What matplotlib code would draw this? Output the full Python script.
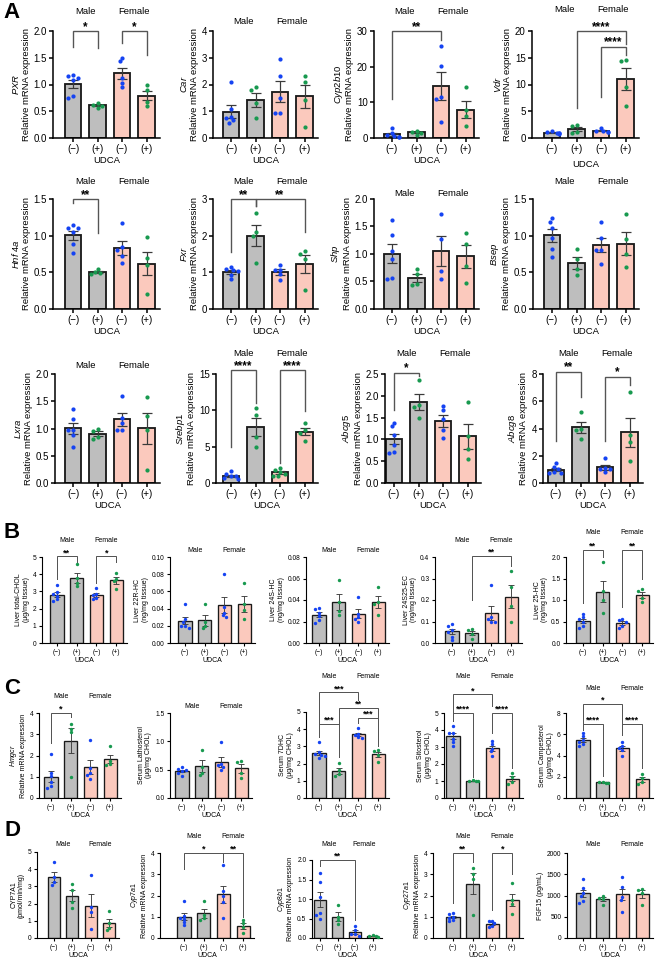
import numpy as np
import matplotlib
matplotlib.use('Agg')
import matplotlib.pyplot as plt
from matplotlib.transforms import blended_transform_factory

plt.rcParams['font.family'] = ['Liberation Sans', 'DejaVu Sans']
plt.rcParams['mathtext.fontset'] = 'custom'
plt.rcParams['mathtext.it'] = 'Liberation Sans:italic'
plt.rcParams['mathtext.rm'] = 'Liberation Sans'

W, H = 657, 959
GREY = '#bebebe'
PINK = '#fbc9bd'
BLUE = '#1543f2'
GREEN = '#18994f'

groups = ['(\u2212)', '(+)', '(\u2212)', '(+)']
sexes = ['Male', 'Female']

# ---- panel A: liver mRNA ----
pxr = [[1.15, 1.17, 1.08, 1.12, 0.75, 0.78], [0.57, 0.60, 0.61, 0.65],
       [1.50, 1.43, 1.12, 1.03, 0.95], [0.99, 0.90, 0.68, 0.60]]
car = [[2.10, 1.07, 0.78, 0.75, 0.66, 0.55], [1.89, 1.81, 1.29, 0.76],
       [2.95, 2.33, 1.48, 0.94, 0.94], [2.31, 2.08, 1.41, 0.42]]
cyp2b10 = [[2.9, 1.4, 0.8, 0.5, 0.3, 0.2], [2.0, 1.8, 1.5, 0.9],
           [25.9, 20.3, 11.4, 10.9, 4.4], [14.3, 7.9, 6.1, 3.4]]
vdr = [[1.3, 1.2, 1.0, 0.9, 0.8, 0.9], [2.4, 2.2, 1.1, 0.9],
       [1.9, 1.4, 1.3, 1.2, 1.1], [14.5, 14.4, 9.5, 5.9]]
hnf4a = [[1.14, 1.10, 1.11, 1.05, 0.88, 0.77], [0.55, 0.50, 0.49, 0.48],
         [1.17, 0.84, 0.80, 0.72, 0.63], [0.98, 0.70, 0.60, 0.20]]
fxr = [[1.15, 1.10, 1.06, 1.03, 0.94, 0.82], [2.63, 2.10, 2.00, 1.25],
       [1.20, 1.06, 1.05, 0.95, 0.78], [1.57, 1.50, 1.36, 0.52]]
shp = [[1.61, 1.35, 1.05, 0.91, 0.55, 0.57], [0.73, 0.64, 0.46, 0.44],
       [1.73, 1.28, 0.69, 0.55], [1.38, 1.19, 0.78, 0.47]]
bsep = [[1.24, 1.19, 1.10, 0.97, 0.82, 0.71], [0.82, 0.68, 0.54, 0.47],
        [1.19, 0.97, 0.80, 0.80, 0.61], [1.29, 0.96, 0.75, 0.57]]
lxra = [[1.35, 1.18, 0.98, 0.97, 0.88, 0.66], [1.00, 0.95, 0.85, 0.80],
        [1.60, 1.20, 1.10, 0.97, 0.97], [1.58, 1.23, 0.98, 0.24]]
srebp1 = [[1.6, 1.2, 1.0, 0.9, 0.7, 0.6], [10.3, 9.3, 6.3, 5.0],
          [2.1, 1.8, 1.5, 1.3, 1.0, 1.0], [8.3, 7.3, 6.9, 5.8]]
abcg5 = [[1.37, 1.30, 1.10, 0.88, 0.70, 0.69], [2.37, 1.80, 1.75, 1.50],
         [1.77, 1.67, 1.46, 1.22, 1.03], [1.86, 1.07, 0.78, 0.56]]
abcg8 = [[1.45, 1.20, 1.00, 0.80, 0.75, 0.70], [5.2, 4.0, 3.9, 3.2],
         [1.8, 1.1, 1.05, 1.0, 0.8], [6.7, 3.5, 3.0, 1.65]]

# ---- panel B: liver sterols ----
total_chol = [[3.35, 2.95, 2.85, 2.75, 2.55, 2.45], [4.6, 3.8, 3.5, 3.3],
              [3.2, 2.85, 2.8, 2.6, 2.55], [4.05, 3.75, 3.6, 3.15]]
hc22r = [[0.045, 0.028, 0.025, 0.020, 0.020, 0.018], [0.045, 0.024, 0.020, 0.017],
         [0.080, 0.042, 0.035, 0.032, 0.030], [0.070, 0.045, 0.038, 0.028]]
hc24s = [[0.033, 0.032, 0.028, 0.025, 0.021, 0.019], [0.059, 0.038, 0.030, 0.026],
         [0.043, 0.027, 0.024, 0.022, 0.020], [0.052, 0.038, 0.036, 0.026]]
ec24s25 = [[0.09, 0.08, 0.06, 0.05, 0.03, 0.015], [0.065, 0.06, 0.04, 0.02],
           [0.27, 0.12, 0.11, 0.10, 0.10], [0.335, 0.26, 0.17, 0.10]]
hc25 = [[0.68, 0.60, 0.55, 0.50, 0.40, 0.35], [1.88, 1.20, 1.00, 0.70],
        [0.55, 0.53, 0.50, 0.40, 0.35], [1.25, 1.22, 1.05, 0.95]]

# ---- panel C: serum sterols ----
hmgcr = [[2.05, 1.20, 1.05, 0.75, 0.55, 0.45], [3.47, 3.27, 3.10, 0.98],
         [2.72, 1.40, 1.20, 1.10, 0.90], [2.45, 1.75, 1.60, 1.55]]
lathosterol = [[0.54, 0.52, 0.50, 0.47, 0.44, 0.38], [0.85, 0.55, 0.45, 0.40],
               [0.98, 0.60, 0.58, 0.55, 0.50], [0.65, 0.64, 0.45, 0.35]]
dhc7 = [[3.25, 2.65, 2.55, 2.50, 2.45, 2.35], [2.05, 1.60, 1.40, 1.30],
        [4.05, 3.75, 3.65, 3.55, 3.50], [2.78, 2.75, 2.50, 2.10]]
sitosterol = [[4.25, 3.85, 3.80, 3.50, 3.30, 3.05], [1.05, 1.02, 1.00, 0.98],
              [3.35, 3.15, 2.90, 2.75, 2.50], [1.48, 1.25, 0.95, 0.85]]
campesterol = [[6.1, 5.8, 5.5, 5.3, 5.1, 4.9], [1.55, 1.50, 1.42, 1.40],
               [5.3, 4.9, 4.7, 4.5, 4.0], [2.3, 1.85, 1.5, 1.35]]

# ---- panel D: bile acid synthesis ----
cyp7a1_act = [[4.40, 3.55, 3.25, 3.10], [3.15, 2.80, 2.10, 1.75],
              [3.68, 1.80, 1.50, 0.55], [1.57, 0.85, 0.60, 0.45]]
cyp7a1 = [[1.75, 1.05, 0.95, 0.90, 0.75, 0.60], [1.75, 1.10, 0.95, 0.85],
          [3.45, 2.20, 2.00, 1.70, 0.92], [0.85, 0.70, 0.50, 0.25]]
cyp8b1 = [[1.67, 1.43, 1.05, 0.65, 0.60, 0.50], [0.85, 0.55, 0.45, 0.35],
          [0.30, 0.20, 0.10, 0.10, 0.05], [0.08, 0.06, 0.04, 0.03]]
cyp27a1 = [[1.20, 1.15, 1.00, 0.95, 0.85, 0.80], [3.30, 3.00, 2.80, 1.10],
           [0.82, 0.78, 0.70, 0.55, 0.50], [2.60, 1.80, 1.60, 1.15]]
fgf15 = [[1390, 1180, 1060, 1000, 860, 820], [1000, 950, 920, 770],
         [1440, 1200, 960, 900, 620], [1150, 1140, 1060, 770]]

REL = '\nRelative mRNA expression'


def gene(name):
    return '$\\mathit{' + name.replace(' ', '\\ ') + '}$' + REL


# brackets: (bar i, bar j, height, left leg end, right leg end, label)
panels = [
    # row A1
    dict(v=pxr, yt=['0.0', '0.5', '1.0', '1.5', '2.0'], yl=gene('PXR'), r=(53, 73, 31, 138), sy=12,
         br=[(0, 1, 2.0, 1.7, 1.69, '*'), (2, 3, 2.0, 1.77, 1.55, '*')]),
    dict(v=car, yt=['0', '1', '2', '3', '4'], yl=gene('Car'), r=(213, 231, 31, 138), sy=22, br=[]),
    dict(v=cyp2b10, yt=['0', '10', '20', '30'], yl=gene('Cyp2b10'), r=(374, 392, 31, 138), sy=11,
         br=[(0, 2, 30, 11, 27.5, '**')]),
    dict(v=vdr, yt=['0', '5', '10', '15', '20'], yl=gene('Vdr'), r=(532, 552, 31, 138), sy=10, pad=4,
         br=[(1, 3, 20, 5.6, 17.5, '****'), (2, 3, 17.1, 7.6, 15.5, '****')]),
    # row A2
    dict(v=hnf4a, yt=['0.0', '0.5', '1.0', '1.5'], yl=gene('Hnf 4a'), r=(53, 73, 199, 309), sy=181,
         br=[(0, 1, 1.5, 1.45, 1.04, '**')]),
    dict(v=fxr, yt=['0', '1', '2', '3'], yl=gene('Fxr'), r=(213, 231, 199, 309), sy=181,
         br=[(0, 1, 3, 1.55, 2.8, '**'), (1, 3, 3, 2.8, 2.1, '**')]),
    dict(v=shp, yt=['0.0', '0.5', '1.0', '1.5', '2.0'], yl=gene('Shp'), r=(374, 392, 199, 309), sy=193, br=[]),
    dict(v=bsep, yt=['0.0', '0.5', '1.0', '1.5'], yl=gene('Bsep'), r=(533, 552, 199, 309), sy=181, br=[]),
    # row A3
    dict(v=lxra, yt=['0.0', '0.5', '1.0', '1.5', '2.0'], yl=gene('Lxra'), r=(55, 73, 374, 483), sy=366, br=[]),
    dict(v=srebp1, yt=['0', '5', '10', '15'], yl=gene('Srebp1'), r=(216, 231, 374, 483), sy=353,
         dc=[BLUE, GREEN, GREEN, GREEN],
         br=[(0, 1, 15.5, 5.0, 11.0, '****'), (2, 3, 15.5, 2.7, 9.9, '****')]),
    dict(v=abcg5, yt=['0.0', '0.5', '1.0', '1.5', '2.0', '2.5'], yl=gene('Abcg5'), r=(385, 394, 374, 483), sy=353,
         br=[(0, 1, 2.53, 1.67, 2.45, '*')]),
    dict(v=abcg8, yt=['0', '2', '4', '6', '8'], yl=gene('Abcg8'), r=(543, 556, 374, 483), sy=353,
         br=[(0, 1, 8.17, 3.1, 6.3, '**'), (2, 3, 7.8, 3.1, 7.2, '*')]),
    # row B
    dict(v=total_chol, yt=['0', '1', '2', '3', '4', '5'], yl='Liver total-CHOL\n(\u03bcg/mg tissue)',
         r=(42, 57, 557, 643), sy=541, small=True,
         br=[(0, 1, 5.04, 3.75, 4.58, '**'), (2, 3, 5.04, 3.46, 4.7, '*')]),
    dict(v=hc22r, yt=['0.00', '0.02', '0.04', '0.06', '0.08', '0.10'], yl='Liver 22R-HC\n(ng/mg tissue)',
         r=(170, 185, 557, 643), sy=550, small=True, br=[]),
    dict(v=hc24s, yt=['0.00', '0.02', '0.04', '0.06', '0.08'], yl='Liver 24S-HC\n(ng/mg tissue)',
         r=(306, 319, 557, 643), sy=550, small=True, br=[]),
    dict(v=ec24s25, yt=['0.0', '0.1', '0.2', '0.3', '0.4'], yl='Liver 24S25-EC\n(ng/mg tissue)',
         r=(435, 452, 557, 643), sy=541, small=True, br=[(1, 3, 0.405, 0.2, 0.36, '**')]),
    dict(v=hc25, yt=['0.0', '0.5', '1.0', '1.5', '2.0'], yl='Liver 25-HC\n(ng/mg tissue)',
         r=(566, 583, 557, 643), sy=533, small=True,
         br=[(0, 1, 2.17, 0.92, 2.0, '**'), (2, 3, 2.17, 0.84, 1.5, '**')]),
    # row C
    dict(v=hmgcr, yt=['0', '1', '2', '3', '4'], yl=gene('Hmgcr'), r=(39, 51, 713, 798), sy=696, small=True,
         br=[(0, 1, 4.0, 2.57, 3.8, '*')]),
    dict(v=lathosterol, yt=['0.0', '0.5', '1.0', '1.5'], yl='Serum Lathosterol\n(\u03bcg/mg CHOL)',
         r=(170, 182, 713, 798), sy=707, small=True, br=[]),
    dict(v=dhc7, yt=['0', '1', '2', '3', '4', '5'], yl='Serum 7DHC\n(\u03bcg/mg CHOL)',
         r=(306, 319, 712, 798), sy=677, small=True,
         br=[(0, 2, 6.15, 4.3, 5.68, '***'), (1, 3, 5.23, 4.3, 4.65, '**'),
             (0, 1, 4.3, 3.57, 2.4, '***'), (2, 3, 4.65, 4.36, 3.0, '***')]),
    dict(v=sitosterol, yt=['0', '1', '2', '3', '4', '5'], yl='Serum Sitosterol\n(\u03bcg/mg CHOL)',
         r=(444, 453, 713, 798), sy=677, small=True,
         br=[(0, 2, 6.1, 5.0, 5.4, '*'), (0, 1, 5.0, 4.53, 1.26, '****'), (2, 3, 5.0, 3.8, 1.75, '****')]),
    dict(v=campesterol, yt=['0', '2', '4', '6', '8'], yl='Serum Campesterol\n(\u03bcg/mg CHOL)',
         r=(566, 583, 713, 798), sy=688, small=True,
         br=[(0, 2, 8.85, 6.95, 6.95, '*'), (0, 1, 6.95, 6.4, 2.1, '****'), (2, 3, 6.95, 5.9, 2.8, '****')]),
    # row D
    dict(v=cyp7a1_act, yt=['0', '1', '2', '3', '4', '5'], yl='CYP7A1\n(pmol/min/mg)',
         r=(37, 54, 852, 938), sy=845, small=True, sp=18.3, br=[]),
    dict(v=cyp7a1, yt=['0', '1', '2', '3', '4'], yl=gene('Cyp7a1'), r=(160, 184, 853, 938), sy=836, small=True,
         br=[(0, 2, 4.0, 3.24, 3.6, '*'), (2, 3, 4.0, 3.6, 1.0, '**')]),
    dict(v=cyp8b1, yt=['0.0', '0.5', '1.0', '1.5', '2.0'], yl=gene('Cyp8b1'), r=(312, 320, 860, 938), sy=845,
         small=True, sp=17.5, br=[(0, 2, 2.0, 1.85, 0.47, '**')]),
    dict(v=cyp27a1, yt=['0', '1', '2', '3', '4'], yl=gene('Cyp27a1'), r=(433, 453, 853, 938), sy=836, small=True,
         br=[(0, 1, 4.0, 1.65, 3.6, '**'), (2, 3, 4.0, 1.3, 3.0, '*')]),
    dict(v=fgf15, yt=['0', '500', '1000', '1500', '2000'], yl='FGF15 (pg/mL)', r=(567, 583, 853, 938), sy=845,
         small=True, br=[]),
]

fig = plt.figure(figsize=(W / 100, H / 100), dpi=100)


def swarm(vals, py, d):
    # simple deterministic beeswarm in pixel space
    order = np.argsort(vals)[::-1]
    placed = []
    offs = np.zeros(len(vals))
    for k in order:
        y = vals[k] * py
        for c in [0, -1, 1, -2, 2, -3, 3]:
            x = c * d * 0.55
            if all((x - px) ** 2 + (y - pyy) ** 2 >= (d * 0.9) ** 2 for px, pyy in placed):
                break
        placed.append((x, y))
        offs[k] = x
    return offs


for p in panels:
    small = p.get('small', False)
    sp = p.get('sp', 19.7 if small else 24.5)
    ax_x, b0, top, bot = p['r']
    x_lo = -(b0 - ax_x) / sp
    x_hi = 3.55
    width = (x_hi - x_lo) * sp
    ax = fig.add_axes([ax_x / W, 1 - bot / H, width / W, (bot - top) / H])

    yt = [float(t) for t in p['yt']]
    ymax = yt[-1]
    vals = [np.array(g, dtype=float) for g in p['v']]
    means = [g.mean() for g in vals]
    sems = [g.std(ddof=1) / np.sqrt(len(g)) for g in vals]

    lw = 0.8 if small else 1.1
    fs_tick = 4.8 if small else 7
    fs_lab = 5 if small else 6.8
    fs_star = 6.5 if small else 8.5
    dot_d = 3.4 if small else 4.2

    xs = np.arange(4)
    ax.bar(xs, means, width=0.66, color=[GREY, GREY, PINK, PINK], edgecolor='#1a1a1a',
           linewidth=lw * 1.2, zorder=1)
    ax.errorbar(xs, means, yerr=sems, fmt='none', ecolor='#3a3a3a', elinewidth=lw * 0.8,
                capsize=2.4 if small else 3.4, capthick=lw * 0.8, zorder=3)
    dcol = p.get('dc', [BLUE, GREEN, BLUE, GREEN])
    py = (bot - top) / ymax
    for i, g in enumerate(vals):
        offs = swarm(g, py, dot_d) / sp
        ax.scatter(i + offs, g, s=(dot_d * 0.72) ** 2, color=dcol[i], linewidths=0, zorder=4,
                   clip_on=False)

    ax.set_xlim(x_lo, x_hi)
    ax.set_ylim(0, ymax)
    ax.set_yticks(yt)
    ax.set_yticklabels(p['yt'])
    ax.set_xticks(xs)
    ax.set_xticklabels(groups)
    for s in ['top', 'right']:
        ax.spines[s].set_visible(False)
    for s in ['left', 'bottom']:
        ax.spines[s].set_linewidth(lw)
    ax.tick_params(axis='both', length=2.5 if small else 3, width=lw, labelsize=fs_tick, pad=1.5)
    ax.set_ylabel(p['yl'], fontsize=fs_lab, labelpad=2, linespacing=1.1)
    ax.set_xlabel('UDCA', fontsize=fs_lab, labelpad=p.get('pad', 1))

    tr = blended_transform_factory(ax.transData, fig.transFigure)
    for k, sx in enumerate(sexes):
        ax.text(0.5 + 2 * k, 1 - p['sy'] / H, sx, transform=tr, ha='center', va='center', fontsize=fs_lab)

    for (i, j, h, li, ri, t) in p['br']:
        ax.plot([i, i, j, j], [li, h, h, ri], color='#555555', lw=lw * 0.9, clip_on=False, zorder=2,
                solid_joinstyle='miter')
        ax.annotate(t, xy=((i + j) / 2, h), xytext=(0, 0.8), textcoords='offset points', ha='center',
                    va='baseline', fontsize=fs_star, fontweight='bold', annotation_clip=False)

for letter, (lx, ly) in zip('ABCD', [(12, 12), (12, 533), (12, 688), (12, 830)]):
    fig.text(lx / W, 1 - ly / H, letter, fontsize=16, fontweight='bold', ha='center', va='center')

fig.savefig('out.png', dpi=100)
